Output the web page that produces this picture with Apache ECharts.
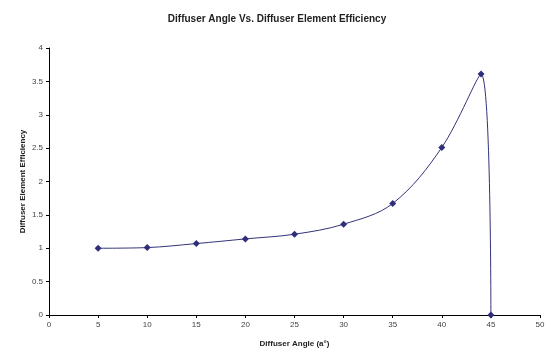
<!DOCTYPE html>
<html>
<head>
<meta charset="utf-8">
<script src="https://cdn.jsdelivr.net/npm/echarts@6/dist/echarts.min.js"></script>
<style>
  html, body { margin: 0; padding: 0; background: #fff; }
  #chart { width: 554px; height: 354px; }
</style>
</head>
<body>
<div id="chart"></div>
<script>
// 扩散角 vs 效率
var angles = [5, 10, 15, 20, 25, 30, 35, 40, 44, 45];
var efficiency = [1.0, 1.01, 1.07, 1.14, 1.21, 1.36, 1.67, 2.51, 3.61, 0];

var chart = echarts.init(document.getElementById('chart'));
var font = 'Liberation Sans, Arial, sans-serif';

chart.setOption({
  animation: false,
  backgroundColor: '#ffffff',
  title: {
    text: 'Diffuser Angle Vs. Diffuser Element Efficiency',
    left: 'center',
    top: 9,
    textStyle: { fontFamily: font, fontSize: 10, fontWeight: 'bold', color: '#222' }
  },
  grid: { left: 49, right: 14, top: 48, bottom: 39 },
  xAxis: {
    type: 'value',
    min: 0,
    max: 50,
    interval: 5,
    name: 'Diffuser Angle (a\u00b0)',
    nameLocation: 'middle',
    nameGap: 25,
    nameTextStyle: { fontFamily: font, fontSize: 8, fontWeight: 'bold', color: '#222' },
    axisLine: { lineStyle: { color: '#000', width: 1 } },
    axisTick: { length: 3, lineStyle: { color: '#000' } },
    axisLabel: { fontFamily: font, fontSize: 8, color: '#444', margin: 6 },
    splitLine: { show: false }
  },
  yAxis: {
    type: 'value',
    min: 0,
    max: 4,
    interval: 0.5,
    name: 'Diffuser Element Efficiency',
    nameLocation: 'middle',
    nameGap: 22,
    nameMoveOverlap: false,
    nameTextStyle: { fontFamily: font, fontSize: 8, fontWeight: 'bold', color: '#222' },
    axisLine: { show: true, lineStyle: { color: '#000', width: 1 } },
    axisTick: { show: true, length: 3, lineStyle: { color: '#000' } },
    axisLabel: { fontFamily: font, fontSize: 8, color: '#444', margin: 6 },
    splitLine: { show: false }
  },
  series: [{
    type: 'line',
    data: angles.map(function (a, i) { return [a, efficiency[i]]; }),
    smooth: 0.35,
    symbol: 'diamond',
    symbolSize: 7,
    lineStyle: { color: '#33337a', width: 1 },
    itemStyle: { color: '#2e2e7a' }
  }]
});
</script>
</body>
</html>
